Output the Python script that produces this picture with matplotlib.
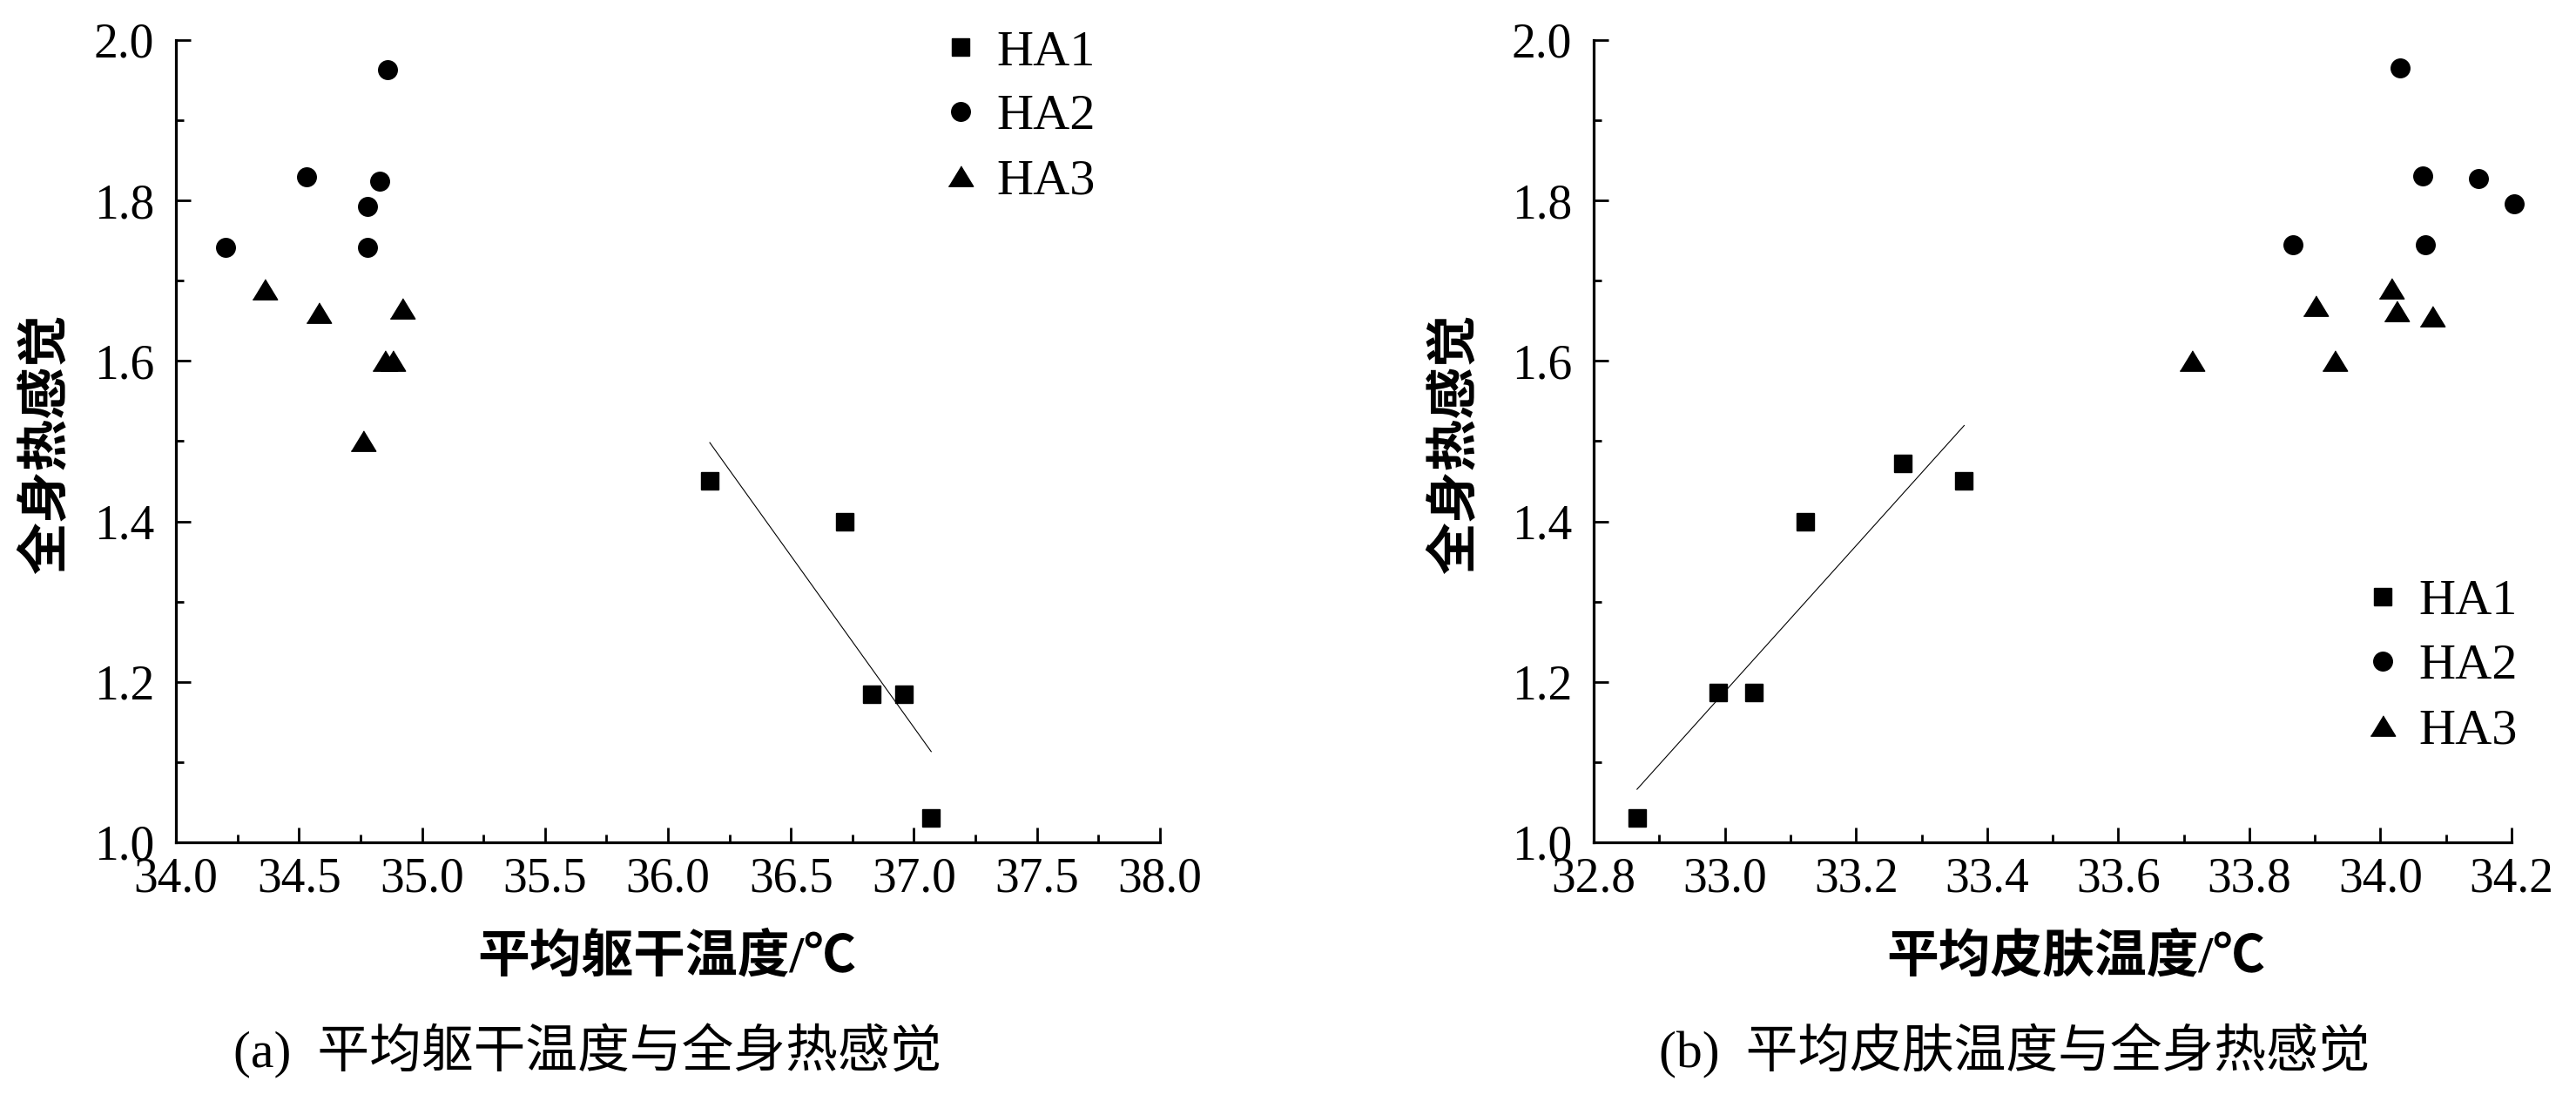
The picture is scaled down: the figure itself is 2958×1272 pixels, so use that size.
import matplotlib
matplotlib.use("Agg")
import matplotlib.pyplot as plt
from matplotlib.ticker import MultipleLocator, FormatStrFormatter
import numpy as np

# (a) mean torso temperature vs overall thermal sensation
a_ha1_x = [36.17, 36.72, 36.83, 36.96, 37.07]
a_ha1_y = [1.45, 1.40, 1.185, 1.185, 1.03]
a_ha2_x = [34.20, 34.53, 34.78, 34.78, 34.83, 34.86]
a_ha2_y = [1.742, 1.829, 1.742, 1.793, 1.824, 1.963]
a_ha3_x = [34.36, 34.58, 34.76, 34.85, 34.88, 34.92]
a_ha3_y = [1.689, 1.66, 1.50, 1.60, 1.60, 1.666]

# (b) mean skin temperature vs overall thermal sensation
b_ha1_x = [32.866, 32.99, 33.044, 33.122, 33.272, 33.365]
b_ha1_y = [1.03, 1.187, 1.187, 1.40, 1.472, 1.45]
b_ha2_x = [33.866, 34.03, 34.065, 34.068, 34.149, 34.204]
b_ha2_y = [1.745, 1.965, 1.831, 1.745, 1.827, 1.796]
b_ha3_x = [33.713, 33.901, 33.93, 34.017, 34.025, 34.079]
b_ha3_y = [1.60, 1.669, 1.60, 1.691, 1.662, 1.656]

labels = ["HA1", "HA2", "HA3"]
serif = "Liberation Serif"
cjk = [serif, "Noto Sans CJK SC"]
tri = [(-1, -0.82), (1, -0.82), (0, 0.82)]

fig = plt.figure(figsize=(29.58, 12.72), dpi=100)
ax1 = fig.add_axes([0.0683, 0.2398, 0.3820, 0.7241])
ax2 = fig.add_axes([0.6187, 0.2398, 0.3563, 0.7241])


def draw(ax, sets, xlim, xmajor, xminor):
    styles = [("s", 14.4), ("o", 15.5), (tri, 20.5)]
    for (xs, ys), (m, ms), lab in zip(sets, styles, labels):
        ax.plot(xs, ys, linestyle="none", marker=m, markersize=ms,
                color="black", label=lab, clip_on=False)
    # linear fit on HA1
    xs, ys = np.array(sets[0][0]), np.array(sets[0][1])
    k, b = np.polyfit(xs, ys, 1)
    fx = np.array([xs.min(), xs.max()])
    ax.plot(fx, k * fx + b, color="black", linewidth=0.8)

    ax.set_xlim(*xlim)
    ax.set_ylim(1.0, 2.0)
    ax.xaxis.set_major_locator(MultipleLocator(xmajor))
    ax.xaxis.set_minor_locator(MultipleLocator(xminor))
    ax.yaxis.set_major_locator(MultipleLocator(0.2))
    ax.yaxis.set_minor_locator(MultipleLocator(0.1))
    ax.xaxis.set_major_formatter(FormatStrFormatter("%.1f"))
    ax.yaxis.set_major_formatter(FormatStrFormatter("%.1f"))
    for s in ["top", "right"]:
        ax.spines[s].set_visible(False)
    for s in ["left", "bottom"]:
        ax.spines[s].set_linewidth(2.3)
    ax.tick_params(which="both", direction="in", width=2.0, top=False, right=False)
    ax.tick_params(which="major", length=12.5)
    ax.tick_params(which="minor", length=6.3)
    ax.tick_params(axis="x", which="major", pad=12)
    ax.tick_params(axis="y", which="major", pad=18)
    for t in ax.get_xticklabels() + ax.get_yticklabels():
        t.set_fontfamily(serif)
        t.set_fontsize(40)


draw(ax1, [(a_ha1_x, a_ha1_y), (a_ha2_x, a_ha2_y), (a_ha3_x, a_ha3_y)],
     (34.0, 38.0), 0.5, 0.25)
draw(ax2, [(b_ha1_x, b_ha1_y), (b_ha2_x, b_ha2_y), (b_ha3_x, b_ha3_y)],
     (32.8, 34.2), 0.2, 0.1)

leg_kw = dict(loc="upper left", frameon=False, borderpad=0, borderaxespad=0,
              handlelength=0.8, handletextpad=0.3, labelspacing=0.36,
              numpoints=1, prop={"family": serif, "size": 42},
              bbox_transform=fig.transFigure)
ax1.legend(bbox_to_anchor=(0.3651, 0.9735), **leg_kw)
ax2.legend(bbox_to_anchor=(0.9172, 0.4775), **leg_kw)

# axis titles
fig.text(0.0185, 0.599, "全身热感觉", rotation=90, ha="center", va="center",
         family=cjk, fontsize=43, fontweight="bold")
fig.text(0.5655, 0.599, "全身热感觉", rotation=90, ha="center", va="center",
         family=cjk, fontsize=43, fontweight="bold")
fig.text(0.259, 0.135, "平均躯干温度/℃", ha="center", va="center",
         family=cjk, fontsize=43, fontweight="bold")
fig.text(0.806, 0.135, "平均皮肤温度/℃", ha="center", va="center",
         family=cjk, fontsize=43, fontweight="bold")

# captions
fig.text(0.228, 0.051, "(a)  平均躯干温度与全身热感觉", ha="center", va="center",
         family=cjk, fontsize=43)
fig.text(0.782, 0.051, "(b)  平均皮肤温度与全身热感觉", ha="center", va="center",
         family=cjk, fontsize=43)

fig.savefig("out.png", dpi=100)
